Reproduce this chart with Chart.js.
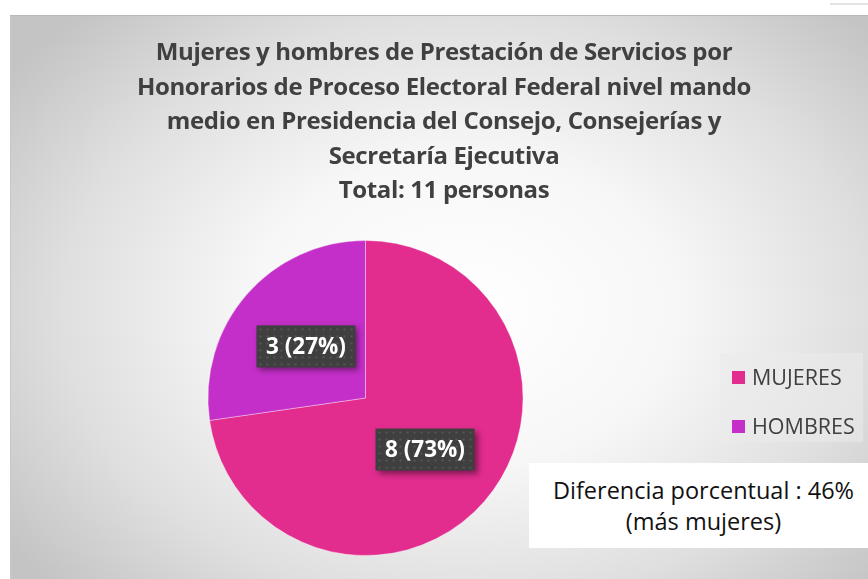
<!DOCTYPE html>
<html>
<head>
<meta charset="utf-8">
<script src="https://cdn.jsdelivr.net/npm/chart.js@4"></script>
<style>
  html, body { margin: 0; padding: 0; background: #fff; width: 868px; height: 579px; overflow: hidden; }
  .frame {
    position: absolute; left: 10px; top: 15px; width: 870px; height: 565px;
    background: radial-gradient(ellipse 64% 72% at 52% 52%, #ffffff 0%, #f7f7f7 38%, #dfdfdf 72%, #c4c4c4 100%);
    border-top: 1px solid #b8b8b8; border-left: 1px solid #c8c8c8;
  }
  .topline { position: absolute; left: 830px; top: 3px; width: 38px; height: 2px; background: #e4e4e4; }
  #chart { position: absolute; left: 0; top: 0; }
  .title {
    position: absolute; left: 60px; top: 34px; width: 768px; text-align: center;
    font-family: "Open Sans", sans-serif; font-weight: bold; font-size: 24px; line-height: 34.5px;
    color: #404040; letter-spacing: -0.35px;
  }
  .legend {
    position: absolute; left: 720px; top: 353px; width: 143px; height: 89px; background: rgba(235,235,235,0.55);
    font-family: "Open Sans", sans-serif; font-size: 21.5px; color: #404040;
  }
  .legend div { position: absolute; left: 12px; height: 24px; line-height: 24px; white-space: nowrap; }
  .legend span { display: inline-block; width: 13px; height: 13px; margin-right: 7px; vertical-align: 1px; }
  .note {
    position: absolute; left: 529px; top: 463px; width: 339px; height: 85px; background: #fff;
    font-family: "Open Sans", sans-serif; font-size: 23.5px; color: #111; text-align: center; line-height: 31px;
  }
  .note p { margin: 0; padding-top: 12px; padding-left: 10px; white-space: nowrap; }
</style>
</head>
<body>
<div class="frame"></div>
<div class="topline"></div>
<canvas id="chart" width="868" height="579"></canvas>
<div class="title">Mujeres y hombres de Prestación de Servicios por<br>Honorarios de Proceso Electoral Federal nivel mando<br>medio en Presidencia del Consejo, Consejerías y<br>Secretaría Ejecutiva<br>Total: 11 personas</div>
<div class="legend" id="legend"></div>
<div class="note"><p>Diferencia porcentual : 46%<br>(más mujeres)</p></div>
<script>
const categories = ['MUJERES', 'HOMBRES'];
const counts = [8, 3];
const sliceColors = ['#E22D8F', '#C52FC9'];

const legend = document.getElementById('legend');
legend.innerHTML = categories.map((c, i) =>
    `<div style="top:${12 + i * 49}px"><span style="background:${sliceColors[i]}"></span>${c}</div>`).join('');

const total = counts.reduce((a, b) => a + b, 0);

const labelBoxes = {
    id: 'labelBoxes',
    afterDatasetsDraw(chart) {
        const ctx = chart.ctx;
        const meta = chart.getDatasetMeta(0);
        ctx.save();
        ctx.font = 'bold 22.5px "Open Sans", sans-serif';
        ctx.textAlign = 'center';
        ctx.textBaseline = 'middle';
        meta.data.forEach((arc, i) => {
            const v = counts[i];
            const txt = `${v} (${Math.round(v / total * 100)}%)`;
            const p = arc.tooltipPosition();
            const w = 99, h = 42;
            const x = p.x - w / 2, y = p.y - h / 2;
            ctx.shadowColor = 'rgba(0,0,0,0.45)';
            ctx.shadowBlur = 6;
            ctx.shadowOffsetX = 3;
            ctx.shadowOffsetY = 3;
            ctx.fillStyle = '#3f3f3f';
            ctx.fillRect(x, y, w, h);
            ctx.shadowColor = 'transparent';
            ctx.fillStyle = 'rgba(255,255,255,0.12)';
            for (let dx = 3; dx < w; dx += 7) {
                for (let dy = 3; dy < h; dy += 7) ctx.fillRect(x + dx, y + dy, 2, 2);
            }
            ctx.fillStyle = '#ffffff';
            ctx.fillText(txt, p.x, p.y + 1);
        });
        ctx.restore();
    }
};

new Chart(document.getElementById('chart'), {
    type: 'pie',
    data: {
        labels: categories,
        datasets: [{
            data: counts,
            backgroundColor: sliceColors,
            borderColor: 'rgba(255,255,255,0.35)',
            borderWidth: 1
        }]
    },
    options: {
        responsive: false,
        animation: false,
        layout: { padding: { left: 207, right: 344, top: 240, bottom: 23 } },
        plugins: { legend: { display: false }, title: { display: false }, tooltip: { enabled: false } }
    },
    plugins: [labelBoxes]
});
</script>
</body>
</html>
